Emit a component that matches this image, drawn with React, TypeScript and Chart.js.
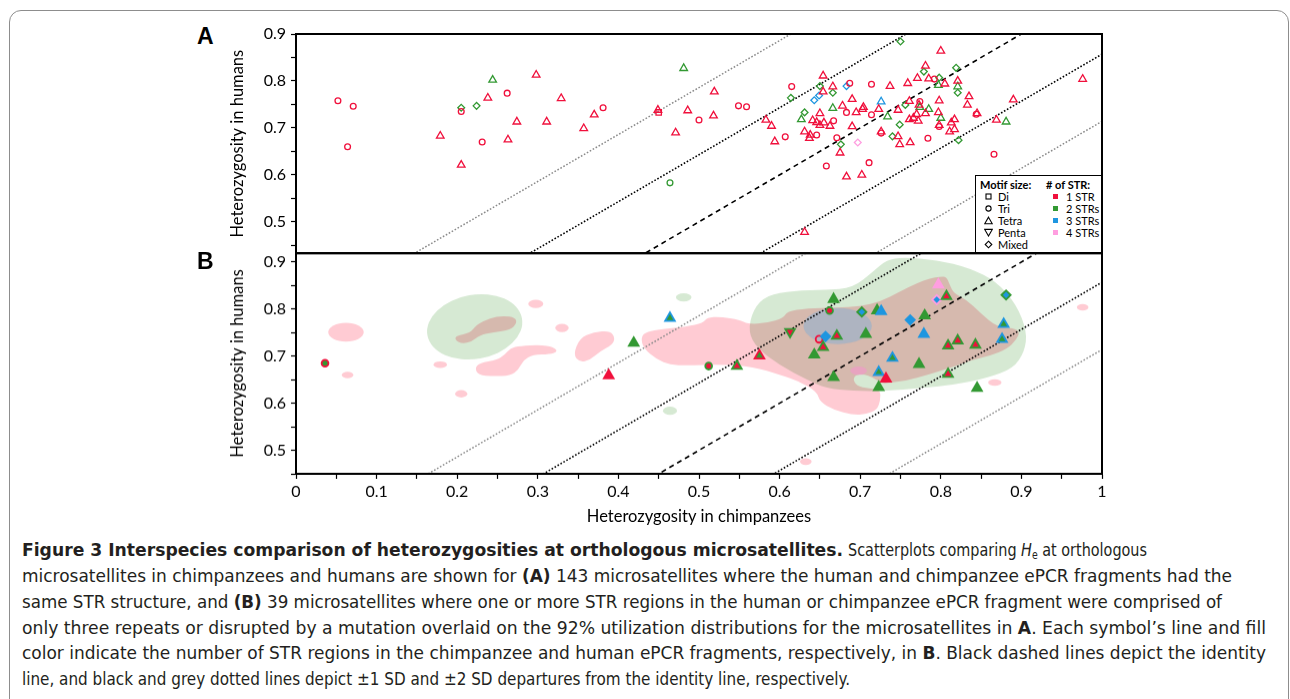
import React, { useEffect, useRef } from 'react';
import { Chart, registerables } from 'chart.js';

Chart.register(...registerables);

// ---------------- data ----------------
const xRange = [0, 1];
const yRangeA = [0.433, 0.9];
const yRangeB = [0.45, 0.919];
const xTickValues = [0, 0.05, 0.1, 0.15, 0.2, 0.25, 0.3, 0.35, 0.4, 0.45, 0.5, 0.55, 0.6, 0.65, 0.7, 0.75, 0.8, 0.85, 0.9, 0.95, 1];
const yTickValues = [0.45, 0.5, 0.55, 0.6, 0.65, 0.7, 0.75, 0.8, 0.85, 0.9];

const identityOffsets = [0];
const sd1Offsets = [0.143, -0.143];
const sd2Offsets = [0.286, -0.286];

const motifLabels = ['Di', 'Tri', 'Tetra', 'Penta', 'Mixed'];
const strLabels = ['1 STR', '2 STRs', '3 STRs', '4 STRs'];

// Panel A: open symbols, colour = number of STRs
const aTetra1 = [
  [0.238, 0.764], [0.298, 0.813], [0.329, 0.763], [0.179, 0.683], [0.205, 0.621], [0.263, 0.675], [0.274, 0.713], [0.311, 0.713], [0.357, 0.699], [0.370, 0.728],
  [0.519, 0.777], [0.449, 0.738], [0.486, 0.737], [0.518, 0.726], [0.471, 0.690], [0.583, 0.717], [0.590, 0.704], [0.594, 0.671],
  [0.781, 0.832], [0.771, 0.806], [0.785, 0.805], [0.759, 0.795], [0.654, 0.811], [0.666, 0.788], [0.654, 0.777], [0.737, 0.789],
  [0.690, 0.761], [0.678, 0.747], [0.650, 0.731], [0.695, 0.733], [0.703, 0.740], [0.704, 0.744], [0.723, 0.740], [0.747, 0.738],
  [0.641, 0.716], [0.646, 0.712], [0.650, 0.706], [0.655, 0.711], [0.6625, 0.704], [0.690, 0.703], [0.631, 0.692], [0.638, 0.685], [0.637, 0.678],
  [0.675, 0.647], [0.683, 0.596], [0.702, 0.600], [0.726, 0.692], [0.747, 0.682], [0.749, 0.665], [0.762, 0.669],
  [0.761, 0.757], [0.773, 0.749], [0.770, 0.729], [0.766, 0.721], [0.761, 0.718], [0.772, 0.715], [0.781, 0.731],
  [0.800, 0.864], [0.805, 0.794], [0.821, 0.800], [0.835, 0.767], [0.890, 0.760], [0.976, 0.804], [0.798, 0.758], [0.833, 0.749],
  [0.797, 0.733], [0.817, 0.718], [0.845, 0.731], [0.813, 0.711], [0.798, 0.706], [0.811, 0.692], [0.817, 0.697], [0.869, 0.717], [0.631, 0.478],
];
const aTetra2 = [
  [0.244, 0.802], [0.481, 0.827], [0.666, 0.742], [0.627, 0.718], [0.734, 0.724], [0.774, 0.744], [0.785, 0.740], [0.797, 0.791], [0.821, 0.788], [0.800, 0.721], [0.881, 0.713],
];
const aTetra3 = [[0.726, 0.756]];
const aTri1 = [
  [0.052, 0.758], [0.071, 0.746], [0.064, 0.660], [0.205, 0.735], [0.262, 0.774], [0.231, 0.670], [0.381, 0.743], [0.500, 0.717], [0.549, 0.747], [0.559, 0.745],
  [0.615, 0.788], [0.687, 0.795], [0.714, 0.793], [0.683, 0.733], [0.714, 0.728], [0.667, 0.715], [0.646, 0.685], [0.607, 0.681], [0.671, 0.679], [0.658, 0.619],
  [0.711, 0.626], [0.726, 0.689], [0.774, 0.756], [0.784, 0.678], [0.792, 0.804], [0.844, 0.729], [0.798, 0.703], [0.866, 0.644],
];
const aTri2 = [[0.464, 0.583]];
const aDi1 = [[0.450, 0.733]];
const aMixed2 = [
  [0.205, 0.743], [0.224, 0.747], [0.750, 0.884], [0.779, 0.820], [0.650, 0.789], [0.666, 0.775], [0.614, 0.764], [0.631, 0.733],
  [0.676, 0.665], [0.740, 0.682], [0.749, 0.707], [0.756, 0.749], [0.819, 0.828], [0.798, 0.807], [0.821, 0.775], [0.822, 0.674],
];
const aMixed3 = [[0.683, 0.789], [0.643, 0.759], [0.649, 0.769]];
const aMixed4 = [[0.697, 0.669]];

// Panel B: 39 microsatellites; line colour = chimp STR count, fill = human STR count
const bX = [0.036, 0.388, 0.464, 0.419, 0.512, 0.547, 0.575, 0.613, 0.662, 0.667, 0.649, 0.657, 0.671, 0.654, 0.643, 0.667, 0.797, 0.795, 0.807, 0.881,
  0.702, 0.721, 0.726, 0.762, 0.780, 0.707, 0.779, 0.878, 0.876, 0.809, 0.821, 0.843, 0.740, 0.773, 0.723, 0.732, 0.723, 0.809, 0.845];
const bY = [0.685, 0.659, 0.781, 0.728, 0.679, 0.679, 0.701, 0.752, 0.797, 0.821, 0.736, 0.742, 0.743, 0.719, 0.703, 0.655, 0.852, 0.820, 0.827, 0.830,
  0.794, 0.797, 0.795, 0.777, 0.786, 0.747, 0.747, 0.768, 0.736, 0.722, 0.733, 0.724, 0.696, 0.683, 0.666, 0.652, 0.634, 0.662, 0.632];
const bMotif = ['Tri', 'Tetra', 'Tetra', 'Tetra', 'Tri', 'Tetra', 'Tetra', 'Penta', 'Tri', 'Tetra', 'Tri', 'Mixed', 'Tetra', 'Tetra', 'Tetra', 'Tetra', 'Tetra', 'Mixed', 'Tetra', 'Mixed',
  'Mixed', 'Tetra', 'Tetra', 'Mixed', 'Tetra', 'Tetra', 'Tetra', 'Tetra', 'Tetra', 'Tetra', 'Tetra', 'Tetra', 'Tetra', 'Tetra', 'Tetra', 'Tetra', 'Tetra', 'Tetra', 'Tetra'];
const bChimpSTR = [1, 1, 3, 2, 2, 2, 1, 2, 2, 2, 1, 3, 2, 2, 2, 2, 4, 4, 2, 2, 2, 2, 3, 3, 2, 2, 3, 3, 3, 2, 2, 2, 3, 2, 3, 1, 2, 2, 2];
const bHumanSTR = [2, 1, 2, 2, 1, 1, 2, 1, 1, 2, 0, 3, 1, 1, 2, 2, 4, 3, 1, 3, 3, 2, 3, 3, 2, 2, 3, 2, 2, 1, 1, 1, 2, 2, 2, 1, 2, 1, 2];

// 92% utilization distributions (panel B), data-space outlines
const pinkMainBlob = [
  [0.428, 0.738], [0.433, 0.751], [0.448, 0.756], [0.485, 0.763], [0.505, 0.770], [0.510, 0.782], [0.526, 0.784], [0.551, 0.777], [0.561, 0.768], [0.584, 0.770],
  [0.605, 0.781], [0.609, 0.795], [0.634, 0.802], [0.671, 0.803], [0.700, 0.806], [0.725, 0.816], [0.749, 0.837], [0.770, 0.855], [0.787, 0.866], [0.799, 0.869],
  [0.807, 0.869], [0.811, 0.852], [0.816, 0.834], [0.832, 0.820], [0.849, 0.792], [0.869, 0.763], [0.890, 0.760], [0.898, 0.752], [0.894, 0.735], [0.882, 0.715],
  [0.861, 0.701], [0.840, 0.692], [0.811, 0.675], [0.783, 0.660], [0.758, 0.648], [0.737, 0.644], [0.727, 0.641], [0.716, 0.655], [0.704, 0.662], [0.694, 0.660],
  [0.691, 0.648], [0.698, 0.635], [0.716, 0.631], [0.725, 0.627], [0.725, 0.607], [0.721, 0.586], [0.708, 0.577], [0.691, 0.575], [0.667, 0.586], [0.650, 0.603],
  [0.646, 0.625], [0.625, 0.646], [0.601, 0.660], [0.567, 0.678], [0.526, 0.683], [0.485, 0.680], [0.464, 0.682], [0.448, 0.692], [0.431, 0.717],
];
const pinkInnerBlob = [
  [0.197, 0.735], [0.199, 0.744], [0.216, 0.749], [0.224, 0.767], [0.241, 0.781], [0.257, 0.786], [0.272, 0.782], [0.274, 0.770], [0.266, 0.756], [0.245, 0.751],
  [0.228, 0.745], [0.218, 0.731], [0.206, 0.726],
];
const pinkMidBlob = [
  [0.222, 0.675], [0.228, 0.685], [0.249, 0.692], [0.259, 0.703], [0.266, 0.717], [0.278, 0.722], [0.303, 0.724], [0.319, 0.720], [0.325, 0.710], [0.315, 0.704],
  [0.294, 0.703], [0.282, 0.692], [0.276, 0.671], [0.266, 0.659], [0.245, 0.657], [0.226, 0.660],
];
const pinkSideBlob = [
  [0.344, 0.703], [0.352, 0.738], [0.369, 0.751], [0.390, 0.754], [0.396, 0.738], [0.392, 0.724], [0.377, 0.710], [0.365, 0.692], [0.352, 0.687],
];
const pinkIslands = [ // [cx, cy, rx, ry]
  [0.062, 0.751, 0.022, 0.020], [0.064, 0.660, 0.0072, 0.0070], [0.179, 0.682, 0.0083, 0.0070], [0.205, 0.620, 0.0076, 0.0078],
  [0.2975, 0.811, 0.0093, 0.0089], [0.330, 0.760, 0.0083, 0.0089], [0.976, 0.804, 0.0072, 0.0068], [0.867, 0.644, 0.0083, 0.0071],
  [0.6325, 0.476, 0.0072, 0.0071],
];
const greenMainBlob = [
  [0.561, 0.752], [0.567, 0.799], [0.584, 0.830], [0.617, 0.839], [0.658, 0.841], [0.691, 0.845], [0.716, 0.880], [0.733, 0.905], [0.753, 0.910], [0.795, 0.905],
  [0.836, 0.887], [0.869, 0.859], [0.894, 0.809], [0.907, 0.752], [0.904, 0.710], [0.890, 0.674], [0.857, 0.653], [0.816, 0.639], [0.774, 0.632], [0.733, 0.626],
  [0.691, 0.626], [0.658, 0.632], [0.634, 0.650], [0.600, 0.681], [0.572, 0.717],
];
const greenIslands = [ // [cx, cy, rx, ry, tiltDeg]
  [0.2217, 0.7623, 0.0596, 0.0681, -10], [0.481, 0.825, 0.0097, 0.0089, 0], [0.464, 0.584, 0.0087, 0.0089, 0],
];
const blueIslands = [[0.672, 0.764, 0.0424, 0.0383, 0]];
const pink4Islands = [[0.698, 0.669, 0.0103, 0.0089, 0]];

// ---------------- styles ----------------
const STR_COLORS = ['rgba(0,0,0,0)', '#f0103c', '#339933', '#1e96e0', '#ff9ee0'];
const PINK_UD = 'rgb(255,203,211)';
const GREEN_UD = 'rgb(214,233,211)';
const BLUE_UD = 'rgba(120,175,220,0.42)';
const PINK4_UD = 'rgba(255,140,215,0.45)';
const FONT = 'Lato, "Open Sans", sans-serif';
const CAPTION_LEFT = 22;
const CAPTION_TOP = 537.1;
const CAPTION_LINE_H = 25.8;

const POINT_STYLE: Record<string, string> = { Di: 'rect', Tri: 'circle', Tetra: 'triangle', Penta: 'triangle', Mixed: 'rectRot' };
const RADIUS_A: Record<string, number> = { Di: 3.8, Tri: 2.9, Tetra: 4.4, Penta: 4.4, Mixed: 3.4 };
const RADIUS_B: Record<string, number> = { Di: 4.5, Tri: 3.4, Tetra: 5.6, Penta: 5.6, Mixed: 4.6 };

const isTenth = (v: number) => Math.abs(v * 10 - Math.round(v * 10)) < 1e-6;
const fmt = (v: number) => (!isTenth(v) ? '' : Math.abs(v) < 1e-9 ? '0' : Math.abs(v - 1) < 1e-9 ? '1' : v.toFixed(1));

function refLineDatasets() {
  const mk = (off: number, color: string, dash: number[], width: number) => ({
    data: [{ x: xRange[0], y: xRange[0] + off }, { x: xRange[1], y: xRange[1] + off }],
    showLine: true, borderColor: color, borderWidth: width, borderDash: dash,
    pointRadius: 0, fill: false, order: 2,
  });
  return [
    ...sd2Offsets.map((o) => mk(o, '#8a8a8a', [1.6, 1.8], 1.5)),
    ...sd1Offsets.map((o) => mk(o, '#000', [1.6, 1.8], 1.6)),
    ...identityOffsets.map((o) => mk(o, '#000', [5, 4], 1.6)),
  ];
}

function seriesA(pts: number[][], motif: string, str: number) {
  return {
    data: pts.map(([x, y]) => ({ x, y })),
    pointStyle: POINT_STYLE[motif],
    rotation: motif === 'Penta' ? 180 : 0,
    pointRadius: RADIUS_A[motif],
    pointBorderColor: STR_COLORS[str],
    pointBackgroundColor: 'rgba(0,0,0,0)',
    pointBorderWidth: 1.3,
    order: 0,
  };
}

const boxPlugin = {
  id: 'panelBox',
  afterDraw(chart: any) {
    const { ctx, chartArea: a } = chart;
    ctx.save();
    ctx.strokeStyle = '#000';
    ctx.lineWidth = 2;
    ctx.strokeRect(a.left, a.top, a.right - a.left, a.bottom - a.top);
    ctx.restore();
  },
};

const udPlugin = {
  id: 'utilization',
  beforeDatasetsDraw(chart: any) {
    const { ctx, chartArea: a, scales } = chart;
    const xs = scales.x, ys = scales.y;
    const P = (vx: number, vy: number) => [xs.getPixelForValue(vx), ys.getPixelForValue(vy)];
    const poly = (pts: number[][], color: string) => {
      const p = pts.map(([vx, vy]) => P(vx, vy));
      const n = p.length;
      const mid = (u: number[], v: number[]) => [(u[0] + v[0]) / 2, (u[1] + v[1]) / 2];
      const m0 = mid(p[n - 1], p[0]);
      ctx.beginPath();
      ctx.moveTo(m0[0], m0[1]);
      for (let i = 0; i < n; i++) {
        const q = mid(p[i], p[(i + 1) % n]);
        ctx.quadraticCurveTo(p[i][0], p[i][1], q[0], q[1]);
      }
      ctx.closePath();
      ctx.fillStyle = color;
      ctx.fill();
    };
    const ell = (e: number[], color: string) => {
      const [cx, cy, rx, ry, tilt] = e;
      const c = P(cx, cy);
      const rxp = Math.abs(xs.getPixelForValue(cx + rx) - c[0]);
      const ryp = Math.abs(ys.getPixelForValue(cy + ry) - c[1]);
      ctx.beginPath();
      ctx.ellipse(c[0], c[1], rxp, ryp, ((tilt || 0) * Math.PI) / 180, 0, Math.PI * 2);
      ctx.fillStyle = color;
      ctx.fill();
    };
    ctx.save();
    ctx.beginPath();
    ctx.rect(a.left, a.top, a.right - a.left, a.bottom - a.top);
    ctx.clip();
    ctx.globalCompositeOperation = 'multiply';
    [pinkMainBlob, pinkInnerBlob, pinkMidBlob, pinkSideBlob].forEach((b) => poly(b, PINK_UD));
    pinkIslands.forEach((e) => ell(e, PINK_UD));
    poly(greenMainBlob, GREEN_UD);
    greenIslands.forEach((e) => ell(e, GREEN_UD));
    ctx.globalCompositeOperation = 'source-over';
    blueIslands.forEach((e) => ell(e, BLUE_UD));
    pink4Islands.forEach((e) => ell(e, PINK4_UD));
    ctx.restore();
  },
};

function yScale(range: number[]) {
  return {
    type: 'linear', min: range[0], max: range[1],
    afterFit: (s: any) => { s.width = 72; },
    afterBuildTicks: (s: any) => { s.ticks = yTickValues.filter((v) => v >= range[0] - 1e-9 && v <= range[1] + 1e-9).map((v) => ({ value: v })); },
    ticks: { autoSkip: false, color: '#000', padding: 5, font: { family: FONT, size: 16 }, callback: (v: any) => fmt(Number(v)) },
    grid: { display: true, drawOnChartArea: false, drawTicks: true, tickLength: 5, tickColor: '#000', tickWidth: 1.2 },
    border: { display: true, color: '#000', width: 2 },
    title: { display: true, text: 'Heterozygosity in humans', color: '#000', font: { family: FONT, size: 16.5 }, padding: { top: 4, bottom: 4 } },
  };
}

function configA(): any {
  return {
    type: 'scatter',
    data: {
      datasets: [
        ...refLineDatasets(),
        seriesA(aTetra1, 'Tetra', 1), seriesA(aTetra2, 'Tetra', 2), seriesA(aTetra3, 'Tetra', 3),
        seriesA(aTri1, 'Tri', 1), seriesA(aTri2, 'Tri', 2), seriesA(aDi1, 'Di', 1),
        seriesA(aMixed2, 'Mixed', 2), seriesA(aMixed3, 'Mixed', 3), seriesA(aMixed4, 'Mixed', 4),
      ],
    },
    options: {
      animation: false, responsive: true, maintainAspectRatio: false, events: [],
      layout: { padding: { top: 20, bottom: 20, right: 20, left: 0 } },
      plugins: { legend: { display: false }, tooltip: { enabled: false } },
      scales: { x: { type: 'linear', min: xRange[0], max: xRange[1], display: false }, y: yScale(yRangeA) },
    },
    plugins: [boxPlugin],
  };
}

function configB(): any {
  return {
    type: 'scatter',
    data: {
      datasets: [
        ...refLineDatasets(),
        {
          data: bX.map((x, i) => ({ x, y: bY[i] })),
          pointStyle: bMotif.map((m) => POINT_STYLE[m]),
          rotation: bMotif.map((m) => (m === 'Penta' ? 180 : 0)),
          pointRadius: bMotif.map((m) => RADIUS_B[m]),
          pointBackgroundColor: bHumanSTR.map((c) => STR_COLORS[c]),
          pointBorderColor: bChimpSTR.map((c) => STR_COLORS[c]),
          pointBorderWidth: 1.8,
          order: 0,
        },
      ],
    },
    options: {
      animation: false, responsive: true, maintainAspectRatio: false, events: [],
      layout: { padding: { top: 20, bottom: 0, right: 20, left: 0 } },
      plugins: { legend: { display: false }, tooltip: { enabled: false } },
      scales: {
        x: {
          type: 'linear', min: xRange[0], max: xRange[1],
          afterFit: (s: any) => { s.height = 56.7; },
          afterBuildTicks: (s: any) => { s.ticks = xTickValues.map((v) => ({ value: v })); },
          ticks: { autoSkip: false, maxRotation: 0, color: '#000', padding: 3, font: { family: FONT, size: 16 }, callback: (v: any) => fmt(Number(v)) },
          grid: { display: true, drawOnChartArea: false, drawTicks: true, tickLength: 5, tickColor: '#000', tickWidth: 1.2 },
          border: { display: true, color: '#000', width: 2 },
          title: { display: true, text: 'Heterozygosity in chimpanzees', color: '#000', font: { family: FONT, size: 16.5 }, padding: { top: 4, bottom: 4 } },
        },
        y: yScale(yRangeB),
      },
    },
    plugins: [udPlugin, boxPlugin],
  };
}

function MotifIcon({ kind }: { kind: string }) {
  const common = { fill: 'none', stroke: '#000', strokeWidth: 1.1 };
  let el: any = null;
  if (kind === 'Di') el = <rect x={2} y={2} width={5} height={5} {...common} />;
  else if (kind === 'Tri') el = <circle cx={4.5} cy={4.5} r={2.6} {...common} />;
  else if (kind === 'Tetra') el = <polygon points="4.5,1.2 8.3,7.8 0.7,7.8" {...common} />;
  else if (kind === 'Penta') el = <polygon points="0.7,1.4 8.3,1.4 4.5,8" {...common} />;
  else el = <polygon points="4.5,1.2 7.8,4.5 4.5,7.8 1.2,4.5" {...common} />;
  return <svg width={9} height={9} style={{ display: 'block' }}>{el}</svg>;
}

const abs = (left: number, top: number, extra: any = {}) => ({ position: 'absolute' as const, left, top, ...extra });

// caption: each segment = [start x, end x, content]
const sub = { fontSize: '0.65em', verticalAlign: '-0.25em' };
const captionLines: any[][] = [
  [
    [22, 843, <b>Figure 3 Interspecies comparison of heterozygosities at orthologous microsatellites.</b>],
    [848, 1147, <>Scatterplots comparing <i>H</i><sub style={sub}>e</sub> at orthologous</>],
  ],
  [[22, 1232, <>microsatellites in chimpanzees and humans are shown for <b>(A)</b> 143 microsatellites where the human and chimpanzee ePCR fragments had the</>]],
  [[22, 1222, <>same STR structure, and <b>(B)</b> 39 microsatellites where one or more STR regions in the human or chimpanzee ePCR fragment were comprised of</>]],
  [[22, 1266, <>only three repeats or disrupted by a mutation overlaid on the 92% utilization distributions for the microsatellites in <b>A</b>. Each symbol’s line and fill</>]],
  [[22, 1266, <>color indicate the number of STR regions in the chimpanzee and human ePCR fragments, respectively, in <b>B</b>. Black dashed lines depict the identity</>]],
  [[22, 850, <>line, and black and grey dotted lines depict ±1 SD and ±2 SD departures from the identity line, respectively.</>]],
];

export default function App() {
  const refA = useRef<HTMLCanvasElement>(null);
  const refB = useRef<HTMLCanvasElement>(null);
  const segRefs = useRef<Record<string, HTMLSpanElement | null>>({});

  useEffect(() => {
    Chart.defaults.font.family = FONT;
    const a = new Chart(refA.current as HTMLCanvasElement, configA());
    const b = new Chart(refB.current as HTMLCanvasElement, configB());
    captionLines.forEach((segs, li) => {
      segs.forEach((seg, si) => {
        const el = segRefs.current[`${li}-${si}`];
        if (!el) return;
        el.style.transform = 'none';
        const w = el.getBoundingClientRect().width;
        if (w > 0) el.style.transform = `scaleX(${(seg[1] - seg[0]) / w})`;
      });
    });
    return () => { a.destroy(); b.destroy(); };
  }, []);

  const legendFont = { fontFamily: FONT, fontSize: 11, lineHeight: '12px', color: '#000', whiteSpace: 'nowrap' as const };
  const rowY = [196.5, 208.5, 220.5, 232.5, 244.5];
  const capFont = { fontFamily: '"Liberation Sans Narrow", "DejaVu Sans Condensed", "Liberation Sans", sans-serif', fontStretch: 'condensed', fontSize: 18.5, color: '#231f20', whiteSpace: 'nowrap' as const, lineHeight: `${CAPTION_LINE_H}px` };

  return (
    <div style={{ position: 'fixed', left: 0, top: 0, width: 1290, height: 699, overflow: 'hidden', background: '#fff' }}>
      <div style={abs(9, 10, { width: 1280, height: 800, boxSizing: 'border-box', border: '1.3px solid #8d8d8d', borderRadius: 12 })} />

      <div style={abs(224, 14, { width: 898, height: 259.3 })}><canvas ref={refA} /></div>
      <div style={abs(224, 233.3, { width: 898, height: 296.7 })}><canvas ref={refB} /></div>

      <div style={abs(197, 25, { fontFamily: '"Liberation Sans", Arial, sans-serif', fontWeight: 700, fontSize: 23, lineHeight: '23px' })}>A</div>
      <div style={abs(197, 250, { fontFamily: '"Liberation Sans", Arial, sans-serif', fontWeight: 700, fontSize: 23, lineHeight: '23px' })}>B</div>

      {/* legend of panel A */}
      <div style={abs(975, 174.7, { width: 127, height: 78.6, boxSizing: 'border-box', border: '1.3px solid #000', background: '#fff', zIndex: 2 })} />
      <div style={{ ...abs(980, 178.7, { zIndex: 3 }), ...legendFont, fontWeight: 700 }}>Motif size:</div>
      <div style={{ ...abs(1046, 178.7, { zIndex: 3 }), ...legendFont, fontWeight: 700 }}>{'# of STR:'}</div>
      {motifLabels.map((m, i) => (
        <React.Fragment key={m}>
          <div style={abs(983.8, rowY[i] - 4.5, { zIndex: 3 })}><MotifIcon kind={m} /></div>
          <div style={{ ...abs(998, rowY[i] - 6, { zIndex: 3 }), ...legendFont }}>{m}</div>
        </React.Fragment>
      ))}
      {strLabels.map((s, i) => (
        <React.Fragment key={s}>
          <div style={abs(1052.5, rowY[i] - 2.5, { width: 5, height: 5, background: STR_COLORS[i + 1], zIndex: 3 })} />
          <div style={{ ...abs(1066, rowY[i] - 6, { zIndex: 3 }), ...legendFont }}>{s}</div>
        </React.Fragment>
      ))}

      {/* caption */}
      {captionLines.map((segs, li) => segs.map((seg, si) => (
        <div key={`${li}-${si}`} style={{ ...abs(seg[0], CAPTION_TOP + li * CAPTION_LINE_H), ...capFont, height: CAPTION_LINE_H }}>
          <span ref={(el) => { segRefs.current[`${li}-${si}`] = el; }} style={{ display: 'inline-block', transformOrigin: 'left center' }}>{seg[2]}</span>
        </div>
      )))}
    </div>
  );
}
